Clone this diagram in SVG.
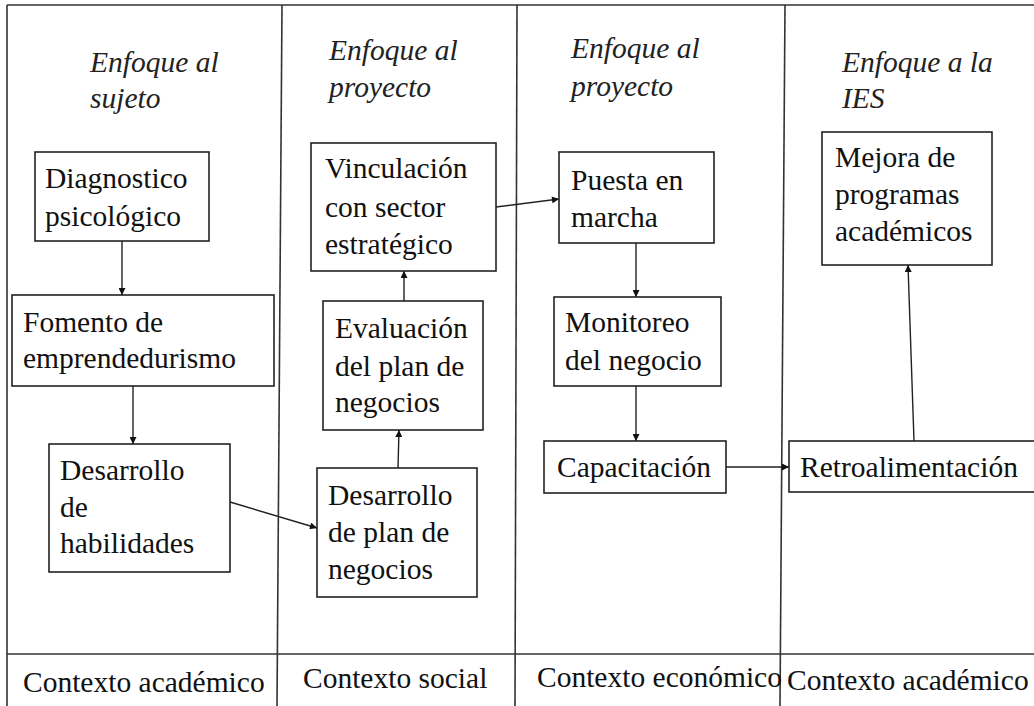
<svg xmlns="http://www.w3.org/2000/svg" width="1034" height="706" viewBox="0 0 1034 706" font-family="'Times New Roman', 'Liberation Serif', Times, serif">
<style>
text{font-family:'Times New Roman','Liberation Serif',Times,serif;font-size:29.5px;fill:#111}
.h{font-style:italic;fill:#222}
.box{fill:#fff;stroke:#222;stroke-width:1.6}
.frame{stroke:#333;stroke-width:1.6;fill:none}
.c{stroke:#222;stroke-width:1.4;fill:none;marker-end:url(#ah)}
</style>
<defs>
<marker id="ah" viewBox="0 0 10 10" refX="10" refY="5" markerWidth="8" markerHeight="7" markerUnits="userSpaceOnUse" orient="auto">
<path d="M0,0 L10,5 L0,10 z" fill="#111"/>
</marker>
</defs>
<rect width="1034" height="706" fill="#fff"/>
<g id="frame">
<line class="frame" x1="7" y1="5" x2="1034" y2="5"/>
<line class="frame" x1="7" y1="5" x2="7" y2="706"/>
<line class="frame" x1="7" y1="654" x2="1034" y2="654"/>
<line class="frame" x1="282" y1="5" x2="277" y2="706"/>
<line class="frame" x1="517" y1="5" x2="515" y2="706"/>
<line class="frame" x1="785" y1="5" x2="780" y2="706"/>
</g>
<g id="headers">
<text class="h" x="90" y="72">Enfoque al</text>
<text class="h" x="90" y="108">sujeto</text>
<text class="h" x="329" y="60">Enfoque al</text>
<text class="h" x="329" y="97">proyecto</text>
<text class="h" x="571" y="58">Enfoque al</text>
<text class="h" x="571" y="96">proyecto</text>
<text class="h" x="842" y="72">Enfoque a la</text>
<text class="h" x="842" y="108">IES</text>
</g>
<g id="footers">
<text x="23" y="692">Contexto académico</text>
<text x="303" y="688">Contexto social</text>
<text x="537" y="687">Contexto económico</text>
<text x="787" y="690">Contexto académico</text>
</g>
<g id="connectors">
<line class="c" x1="122" y1="241" x2="122" y2="295"/>
<line class="c" x1="133" y1="386" x2="133" y2="444"/>
<line class="c" x1="230" y1="502" x2="317" y2="528"/>
<line class="c" x1="398" y1="468" x2="399" y2="430"/>
<line class="c" x1="404" y1="301" x2="404" y2="271"/>
<line class="c" x1="496" y1="207" x2="559" y2="199"/>
<line class="c" x1="636" y1="243" x2="636" y2="297"/>
<line class="c" x1="636" y1="386" x2="636" y2="441"/>
<line class="c" x1="726" y1="467" x2="789" y2="467"/>
<line class="c" x1="914" y1="441" x2="908" y2="265"/>
</g>
<g id="n1">
<rect class="box" x="35" y="152" width="174" height="89"/>
<text x="45" y="188">Diagnostico</text>
<text x="45" y="226">psicológico</text>
</g>
<g id="n2">
<rect class="box" x="12" y="295" width="262" height="91"/>
<text x="23" y="332">Fomento de</text>
<text x="23" y="368">emprendedurismo</text>
</g>
<g id="n3">
<rect class="box" x="49" y="444" width="181" height="128"/>
<text x="60" y="480">Desarrollo</text>
<text x="60" y="517">de</text>
<text x="60" y="553">habilidades</text>
</g>
<g id="n4">
<rect class="box" x="317" y="468" width="160" height="129"/>
<text x="328" y="505">Desarrollo</text>
<text x="328" y="542">de plan de</text>
<text x="328" y="579">negocios</text>
</g>
<g id="n5">
<rect class="box" x="323" y="301" width="160" height="129"/>
<text x="335" y="338">Evaluación</text>
<text x="335" y="376">del plan de</text>
<text x="335" y="412">negocios</text>
</g>
<g id="n6">
<rect class="box" x="311" y="143" width="185" height="128"/>
<text x="325" y="178">Vinculación</text>
<text x="325" y="217">con sector</text>
<text x="325" y="254">estratégico</text>
</g>
<g id="n7">
<rect class="box" x="559" y="152" width="155" height="91"/>
<text x="571" y="190">Puesta en</text>
<text x="571" y="227">marcha</text>
</g>
<g id="n8">
<rect class="box" x="554" y="297" width="167" height="89"/>
<text x="565" y="332">Monitoreo</text>
<text x="565" y="370">del negocio</text>
</g>
<g id="n9">
<rect class="box" x="544" y="441" width="182" height="52"/>
<text x="557" y="477">Capacitación</text>
</g>
<g id="n10">
<rect class="box" x="789" y="441" width="260" height="51"/>
<text x="800" y="477">Retroalimentación</text>
</g>
<g id="n11">
<rect class="box" x="822" y="132" width="170" height="133"/>
<text x="835" y="167">Mejora de</text>
<text x="835" y="204">programas</text>
<text x="835" y="241">académicos</text>
</g>
</svg>
